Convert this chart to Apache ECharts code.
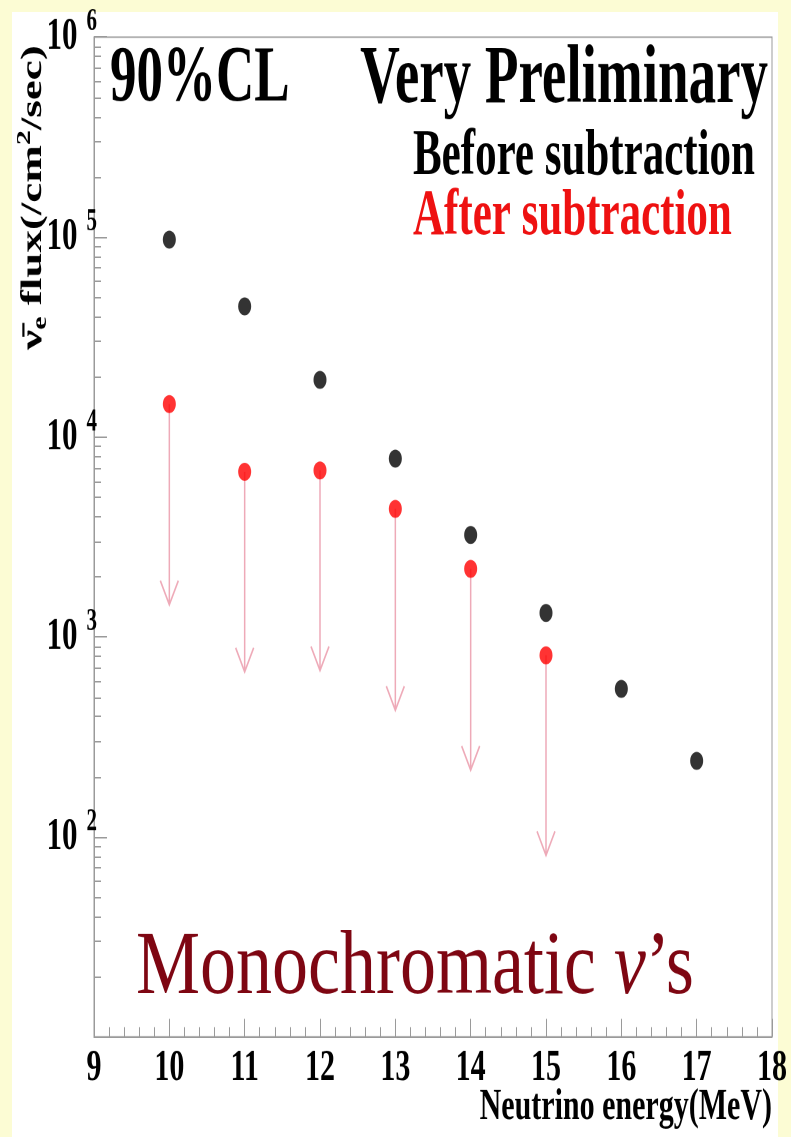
<!DOCTYPE html>
<html>
<head>
<meta charset="utf-8">
<title>Monochromatic anti-neutrino flux limits</title>
<script src="https://cdn.jsdelivr.net/npm/echarts@6/dist/echarts.min.js"></script>
<style>
  html, body { margin: 0; padding: 0; background: #fcfcd4; }
  #page { position: relative; width: 791px; height: 1137px; overflow: hidden; }
  #paper { position: absolute; left: 12px; top: 12px; width: 766px; height: 1125px; background: #ffffff; }
  /* the original picture is stretched vertically, so the chart is too */
  #chart { position: absolute; left: 0; top: 0; width: 791px; height: 758px; transform: scaleY(1.5); transform-origin: 0 0; }
</style>
</head>
<body>
<div id="page">
  <div id="paper"></div>
  <div id="chart"></div>
</div>
<script>
const energy = [10, 11, 12, 13, 14, 15, 16, 17]
const beforeFlux = [97000, 45000, 19300, 7800, 3240, 1320, 550, 240]
const afterEnergy = [10, 11, 12, 13, 14, 15]
const afterFlux = [14600, 6700, 6800, 4370, 2190, 810]
const afterArrowTip = [1450, 670, 680, 430, 216, 81]
const yLabelExps = [2, 3, 4, 5, 6]

const serif = 'Liberation Serif'
const axisGray = '#9a9a9a'
const arrowPink = '#eeaab8'

const chart = echarts.init(document.getElementById('chart'), null, { devicePixelRatio: 2 })

const beforeData = energy.map((e, i) => [e, beforeFlux[i]])
const afterData = afterEnergy.map((e, i) => [e, afterFlux[i]])
const arrowData = afterEnergy.map((e, i) => [e, afterFlux[i], afterArrowTip[i]])

const option = {
  animation: false,
  grid: {
    left: 94,
    top: 24.7,
    width: 678,
    height: 666.6,
    show: true,
    borderColor: axisGray,
    borderWidth: 1
  },
  xAxis: {
    type: 'value',
    min: 9,
    max: 18,
    interval: 1,
    axisLine: { lineStyle: { color: axisGray, width: 1 } },
    axisTick: { inside: true, length: 12, lineStyle: { color: axisGray } },
    minorTick: { show: true, splitNumber: 5, length: 6.5, lineStyle: { color: axisGray } },
    splitLine: { show: false },
    axisLabel: {
      showMinLabel: true,
      showMaxLabel: true,
      margin: 21,
      verticalAlign: 'middle',
      color: '#000',
      fontFamily: serif,
      fontWeight: 'bold',
      fontSize: 30
    }
  },
  yAxis: {
    type: 'log',
    logBase: 10,
    min: 10,
    max: 1000000,
    axisLine: { lineStyle: { color: axisGray, width: 1 } },
    axisTick: { inside: true, length: 13, lineStyle: { color: axisGray } },
    minorTick: { show: true, splitNumber: 9, length: 7, lineStyle: { color: axisGray } },
    splitLine: { show: false },
    axisLabel: {
      margin: -3,
      formatter: function (value) {
        const exp = Math.round(Math.log10(value))
        if (yLabelExps.indexOf(exp) < 0) return ''
        return '{b|10}{e|' + exp + '}'
      },
      rich: {
        b: { fontFamily: serif, fontWeight: 'bold', fontSize: 31, lineHeight: 41, verticalAlign: 'middle', color: '#000' },
        e: { fontFamily: serif, fontWeight: 'bold', fontSize: 21, lineHeight: 20, verticalAlign: 'top', padding: [0, 0, 0, 9], color: '#000' }
      }
    }
  },
  graphic: [
    {
      type: 'text', x: 110, y: 53.3,
      style: { text: '90%CL', fill: '#000', font: 'bold 53px "Liberation Serif"', align: 'left', verticalAlign: 'middle' }
    },
    {
      type: 'text', x: 768, y: 53.7,
      style: { text: 'Very Preliminary', fill: '#000', font: 'bold 55px "Liberation Serif"', align: 'right', verticalAlign: 'middle' }
    },
    {
      type: 'text', x: 413, y: 104.7,
      style: { text: 'Before subtraction', fill: '#000', font: 'bold 43px "Liberation Serif"', align: 'left', verticalAlign: 'middle' }
    },
    {
      type: 'text', x: 413, y: 144.7,
      style: { text: 'After subtraction', fill: '#ee1111', font: 'bold 43px "Liberation Serif"', align: 'left', verticalAlign: 'middle' }
    },
    {
      type: 'text', x: 136, y: 646, scaleX: 1.2,
      style: {
        text: '{m|Monochromatic }{nu|ν}{m|’s}',
        align: 'left',
        verticalAlign: 'middle',
        rich: {
          m: { fontFamily: serif, fontSize: 60, fill: '#7e0612' },
          nu: { fontFamily: serif, fontStyle: 'italic', fontSize: 60, fill: '#7e0612' }
        }
      }
    },
    {
      type: 'text', x: 772, y: 738.3,
      style: { text: 'Neutrino energy(MeV)', fill: '#000', font: 'bold 30px "Liberation Serif"', align: 'right', verticalAlign: 'middle' }
    },
    {
      type: 'text', x: 33, y: 131.7, rotation: Math.PI / 2,
      style: {
        text: '{t|ν̄}{sub|e}{t| flux(/cm}{sup|2}{t|/sec)}',
        align: 'center',
        verticalAlign: 'middle',
        rich: {
          t: { fontFamily: serif, fontWeight: 'bold', fontSize: 30, lineHeight: 36, fill: '#000' },
          sub: { fontFamily: serif, fontWeight: 'bold', fontSize: 20, lineHeight: 20, verticalAlign: 'bottom', fill: '#000' },
          sup: { fontFamily: serif, fontWeight: 'bold', fontSize: 20, lineHeight: 20, verticalAlign: 'top', fill: '#000' }
        }
      }
    }
  ],
  series: [
    {
      name: 'upper limit arrows',
      type: 'custom',
      z: 1,
      data: arrowData,
      renderItem: function (params, api) {
        const top = api.coord([api.value(0), api.value(1)])
        const tip = api.coord([api.value(0), api.value(2)])
        return {
          type: 'group',
          children: [
            {
              type: 'line',
              shape: { x1: top[0], y1: top[1], x2: tip[0], y2: tip[1] },
              style: { stroke: arrowPink, lineWidth: 1.5 }
            },
            {
              type: 'polyline',
              shape: { points: [[tip[0] - 9, tip[1] - 16], [tip[0], tip[1]], [tip[0] + 9, tip[1] - 16]] },
              style: { stroke: arrowPink, lineWidth: 1.5, fill: null }
            }
          ]
        }
      }
    },
    {
      name: 'Before subtraction',
      type: 'scatter',
      z: 3,
      symbol: 'circle',
      symbolSize: [13, 12],
      itemStyle: { color: '#000' },
      data: beforeData
    },
    {
      name: 'After subtraction',
      type: 'scatter',
      z: 3,
      symbol: 'circle',
      symbolSize: [13, 12],
      itemStyle: { color: '#f00' },
      data: afterData
    }
  ]
}

chart.setOption(option)
</script>
</body>
</html>
